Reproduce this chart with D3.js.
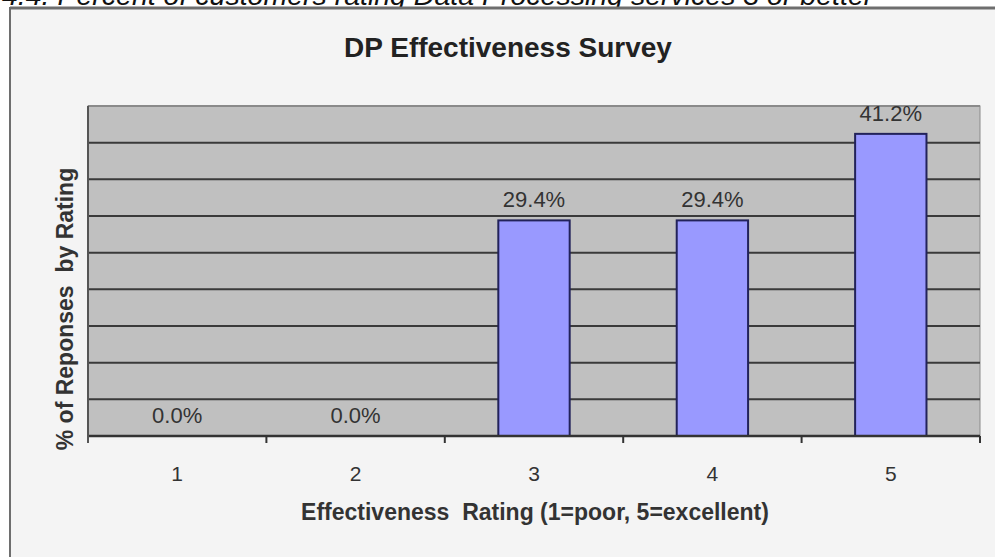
<!DOCTYPE html>
<html>
<head>
<meta charset="utf-8">
<script src="https://cdn.jsdelivr.net/npm/d3@7"></script>
<style>
  html, body { margin: 0; padding: 0; background: #ffffff; }
  svg { display: block; font-family: "Liberation Sans", Arial, sans-serif; }
</style>
</head>
<body>
<svg id="chart" width="995" height="557"></svg>
<script>
// Survey results: share of responses per effectiveness rating
const ratings = ["1", "2", "3", "4", "5"];
const shares = [0.0, 0.0, 29.4, 29.4, 41.2];
const valueLabels = ["0.0%", "0.0%", "29.4%", "29.4%", "41.2%"];
const gridTicks = [5, 10, 15, 20, 25, 30, 35, 40, 45];

const captionText = "4.4. Percent of customers rating Data Processing services 3 or better";
const titleText = "DP Effectiveness Survey";
const xTitle = "Effectiveness\u00a0 Rating (1=poor, 5=excellent)";
const yTitle = "% of Reponses\u00a0 by Rating";

const svg = d3.select("#chart");
const W = 995, H = 557;
const plot = { left: 88, right: 980, top: 106, bottom: 436 };

// Caption line above the chart frame (runs off the page top)
svg.append("text")
  .attr("x", 2).attr("y", 5)
  .attr("font-size", 28.5).attr("font-style", "italic")
  .attr("fill", "#111")
  .text(captionText);

// Chart frame
svg.append("rect")
  .attr("x", 11).attr("y", 8).attr("width", W).attr("height", H)
  .attr("fill", "#f4f4f4");
svg.append("line").attr("x1", 10).attr("x2", W).attr("y1", 8).attr("y2", 8)
  .attr("stroke", "#6e6e6e").attr("stroke-width", 3);
svg.append("line").attr("x1", 10).attr("x2", 10).attr("y1", 7).attr("y2", H)
  .attr("stroke", "#6e6e6e").attr("stroke-width", 2);

// Scales
const x = d3.scaleBand().domain(ratings)
  .range([plot.left, plot.right]).paddingInner(0.6).paddingOuter(0.3);
const xCat = d3.scaleBand().domain(ratings).range([plot.left, plot.right]);
const y = d3.scaleLinear().domain([0, 45]).range([plot.bottom, plot.top]);

// Plot area
svg.append("rect")
  .attr("x", plot.left).attr("y", plot.top)
  .attr("width", plot.right - plot.left).attr("height", plot.bottom - plot.top)
  .attr("fill", "#c0c0c0").attr("stroke", "#8a8a8a").attr("stroke-width", 1);

// Horizontal gridlines
svg.append("g").selectAll("line").data(gridTicks).join("line")
  .attr("x1", plot.left).attr("x2", plot.right)
  .attr("y1", d => y(d)).attr("y2", d => y(d))
  .attr("stroke", d => d === 45 ? "#8a8a8a" : "#3a3a3a")
  .attr("stroke-width", 2);

// Bars
svg.append("g").selectAll("rect").data(ratings).join("rect")
  .attr("x", d => x(d))
  .attr("y", (d, i) => y(shares[i]))
  .attr("width", x.bandwidth())
  .attr("height", (d, i) => y(0) - y(shares[i]))
  .attr("fill", "#9999ff")
  .attr("stroke", "#22225a")
  .attr("stroke-width", 2);

// Value labels
svg.append("g").selectAll("text").data(ratings).join("text")
  .attr("x", d => x(d) + x.bandwidth() / 2)
  .attr("y", (d, i) => y(shares[i]) - 13)
  .attr("text-anchor", "middle")
  .attr("font-size", 22).attr("fill", "#333")
  .text((d, i) => valueLabels[i]);

// X axis with ticks at category boundaries
const xAxisG = svg.append("g").attr("transform", `translate(0,${plot.bottom})`);
xAxisG.append("line").attr("x1", plot.left).attr("x2", plot.right)
  .attr("stroke", "#333").attr("stroke-width", 2.5);
const bounds = ratings.map(d => xCat(d)).concat([plot.right]);
xAxisG.selectAll("line.tick").data(bounds).join("line").attr("class", "tick")
  .attr("x1", d => d).attr("x2", d => d).attr("y1", 0).attr("y2", 7)
  .attr("stroke", "#333").attr("stroke-width", 2);
xAxisG.selectAll("text").data(ratings).join("text")
  .attr("x", d => xCat(d) + xCat.bandwidth() / 2)
  .attr("y", 45)
  .attr("text-anchor", "middle")
  .attr("font-size", 21).attr("fill", "#333")
  .text(d => d);

// Left axis line
svg.append("line").attr("x1", plot.left).attr("x2", plot.left)
  .attr("y1", plot.top).attr("y2", plot.bottom + 7)
  .attr("stroke", "#555").attr("stroke-width", 2);

// Titles
svg.append("text")
  .attr("x", 508).attr("y", 57)
  .attr("text-anchor", "middle")
  .attr("font-size", 28).attr("font-weight", "bold").attr("fill", "#222")
  .text(titleText);

svg.append("text")
  .attr("x", 535).attr("y", 520)
  .attr("text-anchor", "middle")
  .attr("font-size", 23).attr("font-weight", "bold").attr("fill", "#333")
  .text(xTitle);

svg.append("text")
  .attr("transform", "translate(73,309) rotate(-90)")
  .attr("text-anchor", "middle")
  .attr("font-size", 23).attr("font-weight", "bold").attr("fill", "#333")
  .text(yTitle);
</script>
</body>
</html>
